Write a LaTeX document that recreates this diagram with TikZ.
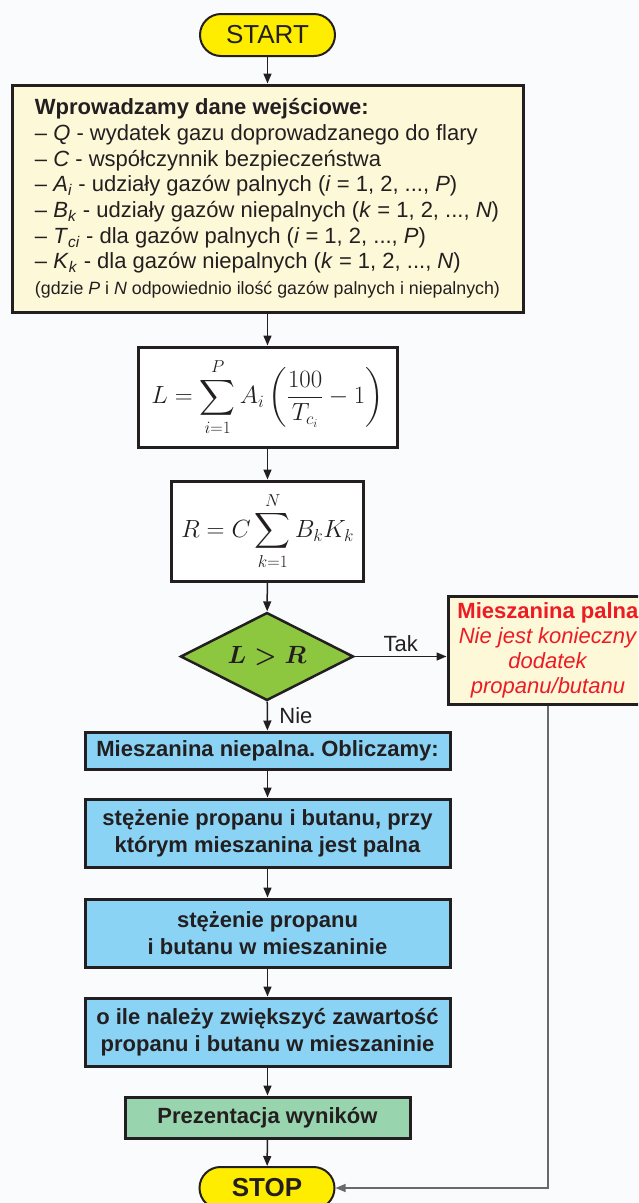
\documentclass[tikz,border=0pt]{standalone}
\usepackage{amsmath}
\usepackage{fontspec}
\setmainfont{Liberation Sans}
\usepackage{tikz}
\usetikzlibrary{arrows.meta, shapes.geometric, positioning, calc}
\frenchspacing

\definecolor{bgpage}{RGB}{250,251,253}
\definecolor{inkline}{RGB}{35,31,32}
\definecolor{pillyellow}{RGB}{255,237,0}
\definecolor{inputfill}{RGB}{253,248,216}
\definecolor{calcblue}{RGB}{138,211,245}
\definecolor{resultgreen}{RGB}{152,212,174}
\definecolor{decisiongreen}{RGB}{141,198,63}
\definecolor{alertred}{RGB}{237,28,36}
\definecolor{returngray}{RGB}{105,105,105}

\begin{document}
\begin{tikzpicture}[x=1pt, y=-1pt, >={Triangle[length=10pt, width=8pt]}]
  % --- STYLE DEFINITIONS ---
  \tikzstyle{terminal}=[draw=inkline, line width=2pt, fill=pillyellow, rounded corners=21pt, minimum width=135pt, minimum height=42pt, inner sep=0pt, text=inkline, font=\fontsize{26}{30}\selectfont]
  \tikzstyle{inputbox}=[draw=inkline, line width=3pt, fill=inputfill, minimum width=511pt, minimum height=227pt, align=left, inner sep=0pt, text=inkline, font=\fontsize{22}{25.7}\selectfont]
  \tikzstyle{formulabox}=[draw=inkline, line width=3pt, fill=white, minimum height=100pt, inner sep=0pt, text=inkline, font=\fontsize{23}{28}\selectfont]
  \tikzstyle{choice}=[diamond, draw=inkline, line width=2.5pt, fill=decisiongreen, aspect=1.97, minimum width=173pt, minimum height=88pt, inner sep=0pt, text=inkline, font=\fontsize{24}{28}\selectfont]
  \tikzstyle{calcstep}=[draw=inkline, line width=3pt, fill=calcblue, minimum width=365pt, align=center, inner sep=0pt, text=inkline, font=\bfseries\fontsize{22}{27}\selectfont]
  \tikzstyle{outcome}=[draw=inkline, line width=3pt, fill=inputfill, minimum width=200pt, minimum height=108pt, align=center, inner sep=0pt, text=alertred, font=\fontsize{22}{25}\selectfont]
  \tikzstyle{flow}=[->, line width=1.5pt, draw=inkline]
  \tikzstyle{branchlabel}=[font=\fontsize{22}{25}\selectfont, text=inkline]

  % --- PAGE ---
  \fill[bgpage] (0,0) rectangle (638,1203);
  \useasboundingbox (0,0) rectangle (638,1203);
  \clip (0,0) rectangle (638,1203);

  % =================================================================
  % INPUT AND FORMULAS
  % =================================================================
  \node[terminal] (start) at (267.5,35) {START};

  \node[inputbox] (input) at (267.5,198.5) {%
    \textbf{Wprowadzamy dane wejściowe:}\\
    -- \textit{Q} - wydatek gazu doprowadzanego do flary\\
    -- \textit{C} - współczynnik bezpieczeństwa\\
    -- \textit{A}\textsubscript{\textit{i}} - udziały gazów palnych (\textit{i} = 1, 2, ..., \textit{P})\\
    -- \textit{B}\textsubscript{\textit{k}} - udziały gazów niepalnych (\textit{k} = 1, 2, ..., \textit{N})\\
    -- \textit{T}\textsubscript{\textit{ci}} - dla gazów palnych (\textit{i} = 1, 2, ..., \textit{P})\\
    -- \textit{K}\textsubscript{\textit{k}} - dla gazów niepalnych (\textit{k} = 1, 2, ..., \textit{N})\\
    {\fontsize{17.8}{20}\selectfont (gdzie \textit{P} i \textit{N} odpowiednio ilość gazów palnych i niepalnych)}};

  \node[formulabox, minimum width=259pt] (lsum) at (267.5,397)
    {$\displaystyle L=\sum_{i=1}^{P}A_i\left(\frac{100}{T_{c_i}}-1\right)$};
  \node[formulabox, minimum width=192pt] (rsum) at (267.5,531)
    {$\displaystyle R=C\sum_{k=1}^{N}B_kK_k$};

  % =================================================================
  % DECISION
  % =================================================================
  \node[choice] (cmp) at (267,656.5) {$\boldsymbol{L > R}$};
  \node[outcome] (burnable) at (548,650) {%
    \textbf{Mieszanina palna}\\
    \textit{Nie jest konieczny}\\
    \textit{dodatek}\\
    \textit{propanu/butanu}};

  % =================================================================
  % CALCULATION STEPS
  % =================================================================
  \node[calcstep, minimum height=37pt] (calc0) at (267.5,750.5) {Mieszanina niepalna. Obliczamy:};
  \node[calcstep, minimum height=68pt] (calc1) at (267.5,833) {stężenie propanu i butanu, przy\\ którym mieszanina jest palna};
  \node[calcstep, minimum height=68pt] (calc2) at (267.5,933) {stężenie propanu\\ i butanu w mieszaninie};
  \node[calcstep, minimum height=68pt] (calc3) at (267.5,1032) {o ile należy zwiększyć zawartość\\ propanu i butanu w mieszaninie};
  \node[calcstep, fill=resultgreen, minimum width=285pt, minimum height=41pt] (report) at (267.5,1117.5) {Prezentacja wyników};
  \node[terminal, font=\bfseries\fontsize{26}{30}\selectfont] (stop) at (267,1188) {STOP};

  % --- CONNECTORS ---
  \draw[flow] (start) -- (input);
  \draw[flow] (input) -- (lsum);
  \draw[flow] (lsum) -- (rsum);
  \draw[flow] (rsum) -- (cmp);
  \draw[flow] (cmp.east) -- (cmp.east -| burnable.west)
    node[branchlabel, midway, above=1pt] {Tak};
  \draw[flow] (cmp) -- (calc0) node[branchlabel, midway, right=8pt] {Nie};
  \draw[flow] (calc0) -- (calc1);
  \draw[flow] (calc1) -- (calc2);
  \draw[flow] (calc2) -- (calc3);
  \draw[flow] (calc3) -- (report);
  \draw[flow] (report) -- (stop);
  \draw[->, line width=1.2pt, draw=returngray] (burnable.south) |- (stop.east);
\end{tikzpicture}
\end{document}
